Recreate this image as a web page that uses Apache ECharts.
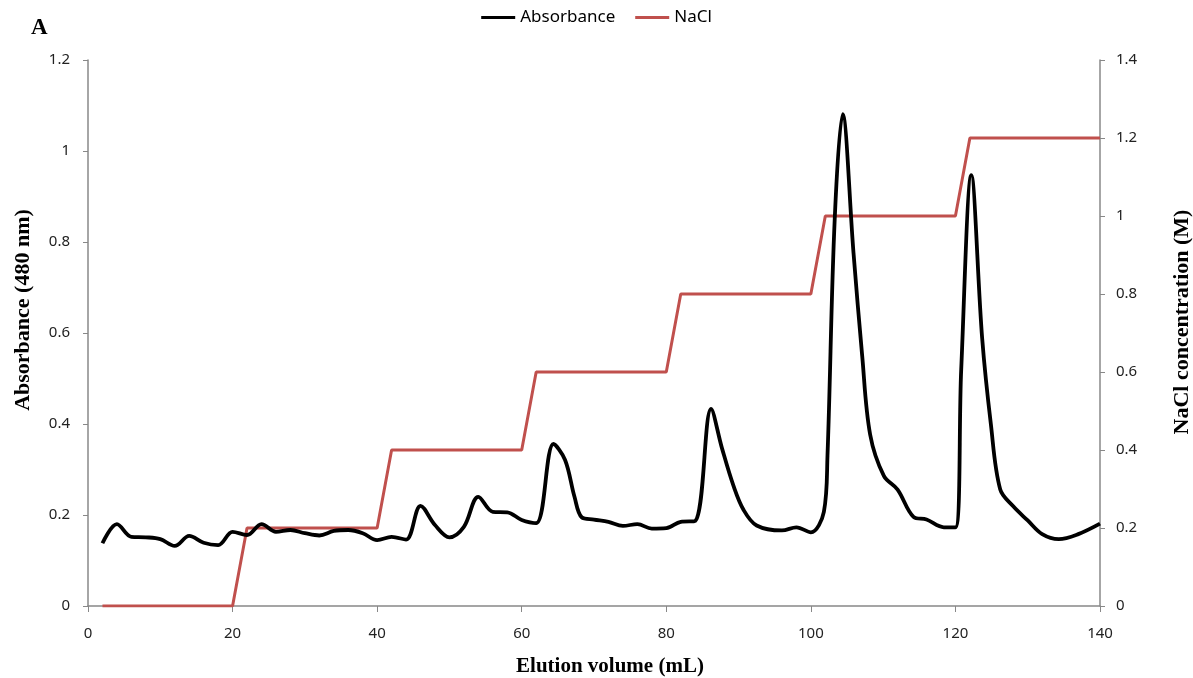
<!DOCTYPE html>
<html>
<head>
<meta charset="utf-8">
<script src="https://cdn.jsdelivr.net/npm/echarts@6/dist/echarts.min.js"></script>
<style>
html,body{margin:0;padding:0;background:#fff;}
#chart{width:1193px;height:678px;}
</style>
</head>
<body>
<div id="chart"></div>
<script>
// Elution volume (mL) and absorbance (480 nm)
const absVolume = [2,4,6,8,10,12,14,16,18,20,22,24,26,28,30,32,34,36,38,40,42,44,46,48,50,52,54,56,58,60,62,64.4,66,67.3,68.3,70,72,74,76,78,80,82,84,86.2,87.7,89.3,90.7,92.5,96,98,100,101.8,102.3,103.3,104.4,105.9,107.1,108.2,110.1,112,114.2,116,118.4,120,120.8,122.2,123.7,124.9,126.2,128,130,132,134.3,137,140];
const absValues = [0.138,0.18,0.152,0.151,0.147,0.132,0.154,0.139,0.134,0.163,0.156,0.18,0.163,0.167,0.16,0.155,0.165,0.167,0.16,0.145,0.152,0.146,0.22,0.178,0.151,0.174,0.24,0.207,0.206,0.189,0.182,0.356,0.321,0.24,0.195,0.19,0.185,0.176,0.18,0.17,0.171,0.185,0.187,0.433,0.347,0.264,0.211,0.177,0.166,0.173,0.162,0.207,0.33,0.85,1.081,0.776,0.55,0.377,0.286,0.256,0.196,0.19,0.173,0.173,0.52,0.947,0.588,0.4,0.256,0.219,0.188,0.158,0.147,0.158,0.181];
// NaCl step gradient (M)
const naclVolume = [2,20,22,40,42,60,62,80,82,100,102,120,122,140];
const naclValues = [0,0,0.2,0.2,0.4,0.4,0.6,0.6,0.8,0.8,1.0,1.0,1.2,1.2];
// tick settings
const xTicks = {min:0, max:140, interval:20};
const yLeftTicks = {min:0, max:1.2, interval:0.2};
const yRightTicks = {min:0, max:1.4, interval:0.2};

const absData = absVolume.map((v,i)=>[v,absValues[i]]);
const naclData = naclVolume.map((v,i)=>[v,naclValues[i]]);

const axisColor = '#888888';
const labelFont = {fontFamily:'Noto Sans', fontSize:15, color:'#222'};
const nameFontX = {fontFamily:'Liberation Serif', fontWeight:'bold', fontSize:21, color:'#000', padding:[0,0,0,32]};
const nameFontL = {fontFamily:'Liberation Serif', fontWeight:'bold', fontSize:22, color:'#000', padding:[0,0,0,46]};
const nameFontR = {fontFamily:'Liberation Serif', fontWeight:'bold', fontSize:22, color:'#000', padding:[0,0,0,22]};

const chart = echarts.init(document.getElementById('chart'), null, {renderer:'canvas'});
chart.setOption({
  animation:false,
  backgroundColor:'#fff',
  title:{text:'A', left:26, top:12, textStyle:{fontFamily:'Liberation Serif', fontWeight:'bold', fontSize:23, color:'#000'}},
  legend:{
    top:4, left:'center',
    itemWidth:34, itemHeight:14, itemGap:20,
    textStyle:{fontFamily:'Noto Sans', fontSize:17, color:'#000'},
    data:[{name:'Absorbance', icon:'path://M0,6 L34,6 L34,9 L0,9 Z'},{name:'NaCl', icon:'path://M0,6 L34,6 L34,9 L0,9 Z'}]
  },
  grid:{left:88, right:93, top:60, bottom:72, containLabel:false, outerBoundsMode:'none'},
  xAxis:Object.assign({
    type:'value',
    name:'Elution volume (mL)', nameLocation:'middle', nameGap:50, nameTextStyle:nameFontX,
    axisLine:{show:true, lineStyle:{color:axisColor, width:1.5}},
    axisTick:{show:true, length:6, lineStyle:{color:axisColor}},
    axisLabel:Object.assign({margin:20}, labelFont),
    splitLine:{show:false}
  }, xTicks),
  yAxis:[Object.assign({
    type:'value', position:'left',
    name:'Absorbance (480 nm)', nameLocation:'middle', nameGap:54, nameRotate:90, nameTextStyle:nameFontL,
    axisLine:{show:true, lineStyle:{color:axisColor, width:1.5}},
    axisTick:{show:true, length:5, lineStyle:{color:axisColor}},
    axisLabel:Object.assign({margin:18}, labelFont),
    splitLine:{show:false}
  }, yLeftTicks), Object.assign({
    type:'value', position:'right',
    name:'NaCl concentration (M)', nameLocation:'middle', nameGap:71, nameRotate:90, nameTextStyle:nameFontR,
    axisLine:{show:true, lineStyle:{color:axisColor, width:1.5}},
    axisTick:{show:true, length:5, lineStyle:{color:axisColor}},
    axisLabel:Object.assign({margin:16}, labelFont),
    splitLine:{show:false}
  }, yRightTicks)],
  series:[{
    name:'Absorbance', type:'line', yAxisIndex:0, data:absData,
    smooth:0.35, showSymbol:false, symbol:'none',
    lineStyle:{color:'#000', width:3.8}, itemStyle:{color:'#000'}, z:3
  },{
    name:'NaCl', type:'line', yAxisIndex:1, data:naclData,
    smooth:false, showSymbol:false, symbol:'none',
    lineStyle:{color:'#C0504D', width:3}, itemStyle:{color:'#C0504D'}, z:2
  }]
});
</script>
</body>
</html>
